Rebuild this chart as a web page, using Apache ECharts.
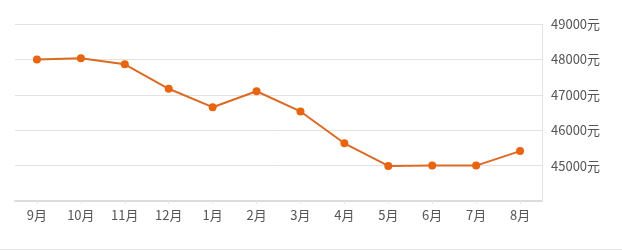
<!DOCTYPE html>
<html><head><meta charset="utf-8">
<script src="https://cdn.jsdelivr.net/npm/echarts@6/dist/echarts.min.js"></script>
<style>html,body{margin:0;padding:0;background:#fff}#c{width:622px;height:250px}</style>
</head><body><div id="c"></div>
<script>
const categories = ['9月','10月','11月','12月','1月','2月','3月','4月','5月','6月','7月','8月'];
const prices = [48000, 48030, 47860, 47170, 46650, 47100, 46530, 45630, 44990, 45000, 45000, 45410];
const yMin = 44000, yMax = 49000, yStep = 1000;
const unit = '元';

const chart = echarts.init(document.getElementById('c'), null, {renderer:'canvas'});
chart.setOption({
  backgroundColor:'#fff',
  animation:false,
  grid:{left:15, right:80, top:24, bottom:49},
  xAxis:{
    type:'category', data:categories, boundaryGap:true,
    axisLine:{show:true, lineStyle:{color:'#dcdcdc', width:2}},
    axisTick:{show:true, alignWithLabel:true, length:3, lineStyle:{color:'#e6e6e6'}},
    axisLabel:{color:'#555', fontSize:13, margin:8, fontFamily:'Noto Sans CJK SC'}
  },
  yAxis:{
    type:'value', position:'right', min:yMin, max:yMax, interval:yStep,
    axisLine:{show:true, lineStyle:{color:'#e4e4e4', width:1}},
    axisTick:{show:false},
    splitLine:{lineStyle:{color:'#e2e2e2'}},
    axisLabel:{color:'#555', fontSize:13, margin:9, fontFamily:'Noto Sans CJK SC',
      formatter:v=> v===yMin ? '' : v+unit}
  },
  series:[{
    type:'line', data:prices, symbol:'circle', symbolSize:8,
    lineStyle:{color:'#dc6a24', width:2},
    itemStyle:{color:'#e8640f'}
  }],
  graphic:[{type:'line', shape:{x1:0,y1:249.5,x2:622,y2:249.5}, style:{stroke:'#e6e6e6', lineWidth:1}}]
});
</script></body></html>
